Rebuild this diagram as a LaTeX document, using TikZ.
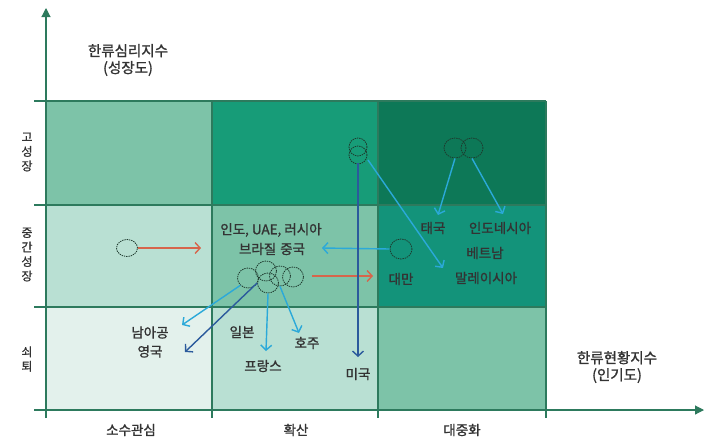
\documentclass[tikz,border=0pt]{standalone}
\usepackage{fontspec}
\setmainfont{Noto Sans CJK KR}[FakeBold=1.2]
\usetikzlibrary{arrows.meta,shapes.geometric}
\definecolor{gridc}{HTML}{2D7A5D}
\definecolor{cA}{HTML}{7DC3A8}
\definecolor{cB}{HTML}{179C78}
\definecolor{cC}{HTML}{0D7857}
\definecolor{cD}{HTML}{B9E0D3}
\definecolor{cE}{HTML}{13937A}
\definecolor{cF}{HTML}{E3F1EC}
\definecolor{txt}{HTML}{333333}
\definecolor{redA}{HTML}{D6654B}
\definecolor{lblue}{HTML}{2BA9D9}
\definecolor{dblue}{HTML}{2B5A9C}
\definecolor{circc}{HTML}{1E3A2E}
\begin{document}
\begin{tikzpicture}[x=1pt,y=-1pt,
  lbl/.style={text=txt,font=\fontsize{13.5}{19}\selectfont,inner sep=0pt,align=center},
  axl/.style={text=txt,font=\fontsize{14.5}{17}\selectfont,inner sep=0pt,align=center},
  coll/.style={text=txt,font=\fontsize{13.5}{16}\selectfont,inner sep=0pt,align=center},
  rowl/.style={text=txt,font=\fontsize{12}{14.5}\selectfont,inner sep=0pt,align=center},
  blob/.style={draw=circc,dash pattern=on 1.4pt off 0.9pt,line width=0.8pt,ellipse,inner sep=0pt},
  arr/.style={line width=1.4pt,-{Straight Barb[length=5pt,width=11pt]}},
  gridl/.style={draw=gridc,line width=1.1pt}
]
\useasboundingbox (0,0) rectangle (709,442);
% cells
\fill[cA] (46,101) rectangle (212,205);
\fill[cB] (212,101) rectangle (378,205);
\fill[cC] (378,101) rectangle (546,205);
\fill[cD] (46,205) rectangle (212,307);
\fill[cA] (212,205) rectangle (378,307);
\fill[cE] (378,205) rectangle (546,307);
\fill[cF] (46,307) rectangle (212,410);
\fill[cD] (212,307) rectangle (378,410);
\fill[cA] (378,307) rectangle (546,410);
% grid
\draw[gridl] (34,101) -- (546,101);
\draw[gridl] (34,205) -- (546,205);
\draw[gridl] (34,307) -- (546,307);
\draw[gridl] (212,101) -- (212,418);
\draw[gridl] (378,101) -- (378,418);
\draw[gridl] (546,101) -- (546,418);
% axes
\coordinate (xl) at (34,410);
\coordinate (ybot) at (46,418);
\coordinate (ytip) at (46,8);
\coordinate (xtip) at (704,410);
\draw[gridl,-{Triangle[length=9pt,width=9pt]}] (ybot) -- (ytip);
\draw[gridl,-{Triangle[length=9pt,width=9pt]}] (xl) -- (xtip);
% axis labels
\node[axl] (ylab) at (128,60) {한류심리지수\\(성장도)};
\node[axl] (xlab) at (617,367) {한류현황지수\\(인기도)};
\node[rowl] (r1) at (27,152) {고\\성\\장};
\node[rowl] (r2) at (27,254.5) {중\\간\\성\\장};
\node[rowl] (r3) at (27,359) {쇠\\퇴};
\node[coll] (c1) at (131,430) {소수관심};
\node[coll] (c2) at (296,430) {확산};
\node[coll] (c3) at (462,430) {대중화};
% blobs
\node[blob,minimum width=21pt,minimum height=17pt] (b1) at (127,248) {};
\node[blob,minimum width=18pt,minimum height=18pt] (us1) at (358,147) {};
\node[blob,minimum width=18pt,minimum height=18pt] (us2) at (358,155) {};
\node[blob,minimum width=22pt,minimum height=20pt] (th) at (455,148) {};
\node[blob,minimum width=22pt,minimum height=20pt] (id) at (472,148) {};
\node[blob,minimum width=22pt,minimum height=20pt] (tw) at (401,249) {};
\node[blob,minimum width=21pt,minimum height=20pt] (k1) at (248,278) {};
\node[blob,minimum width=21pt,minimum height=20pt] (k2) at (266,271) {};
\node[blob,minimum width=21pt,minimum height=20pt] (k3) at (268,283) {};
\node[blob,minimum width=21pt,minimum height=20pt] (k4) at (280,276) {};
\node[blob,minimum width=21pt,minimum height=20pt] (k5) at (293,277) {};
% labels
\node[lbl] (india) at (271,230) {인도, UAE, 러시아};
\node[lbl] (brazil) at (272,249) {브라질\hspace{4pt}중국};
\node[lbl] (thai) at (433,228) {태국};
\node[lbl] (indo) at (500,228) {인도네시아};
\node[lbl] (viet) at (485,253) {베트남};
\node[lbl] (malay) at (486,278) {말레이시아};
\node[lbl] (taiwan) at (401,279) {대만};
\node[lbl] (safr) at (150,342) {남아공\\영국};
\node[lbl] (japan) at (242,332) {일본};
\node[lbl] (france) at (263,366) {프랑스};
\node[lbl] (aus) at (307,343) {호주};
\node[lbl] (usa) at (358,374) {미국};
% arrow ends
\coordinate (e1) at (201,248);
\coordinate (e2) at (373,276);
\coordinate (e3) at (322,248);
\coordinate (e4) at (443,268);
\coordinate (e5) at (358,357);
\coordinate (e6) at (438,215);
\coordinate (e7) at (503,214);
\coordinate (e8) at (182,325);
\coordinate (e9) at (185,352);
\coordinate (e10) at (266,351);
\coordinate (e11) at (299,333);
\coordinate (s2) at (312,276);
\coordinate (s5) at (358,163);
\coordinate (s4) at (368,160);
% arrows
\draw[arr,redA] (b1.east) -- (e1);
\draw[arr,redA] (s2) -- (e2);
\draw[arr,lblue] (tw.west) -- (e3);
\draw[arr,lblue] (s4) -- (e4);
\draw[arr,dblue] (s5) -- (e5);
\draw[arr,lblue] (th.south) -- (e6);
\draw[arr,lblue] (id.south) -- (e7);
\draw[arr,lblue] (k1.south west) -- (e8);
\draw[arr,dblue] (k3.west) -- (e9);
\draw[arr,lblue] (k3.south) -- (e10);
\draw[arr,lblue] (k4.south) -- (e11);
\end{tikzpicture}
\end{document}
